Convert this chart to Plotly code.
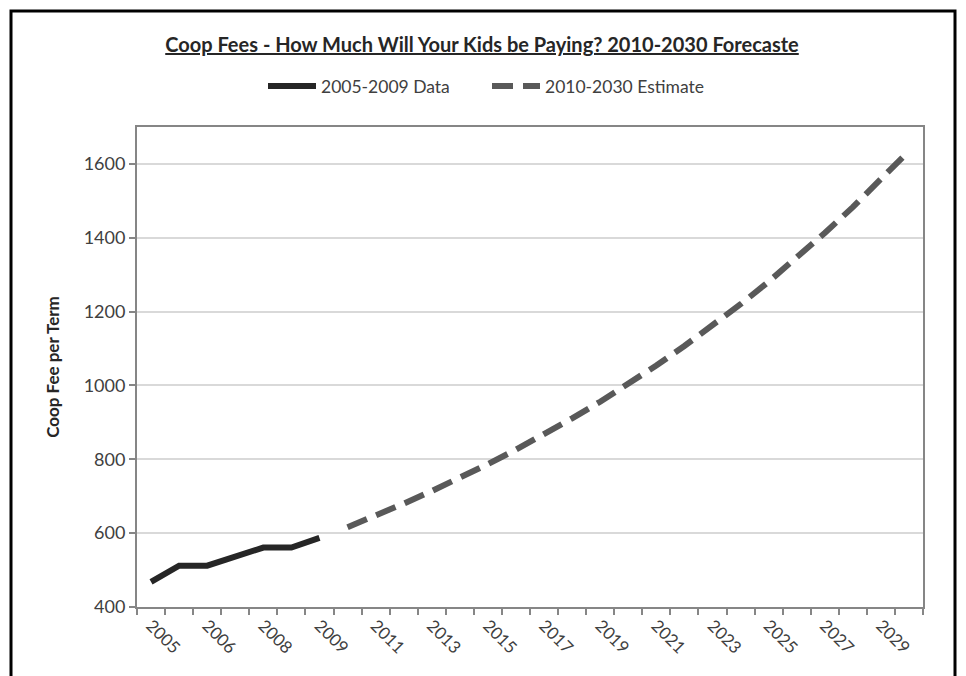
import plotly.graph_objects as go

# ---- data ----
categories = ["2005", "2006", "2006", "2007", "2008", "2008", "2009",
              "2010", "2011", "2012", "2013", "2014", "2015", "2016", "2017",
              "2018", "2019", "2020", "2021", "2022", "2023", "2024", "2025",
              "2026", "2027", "2028", "2029", "2030"]
actual_values = [468, 512, 512, 537, 561, 561, 587]          # 2005-2009 Data
estimate_values = [616, 647, 680, 714, 749, 787, 826, 867, 911, 956, 1004,
                   1054, 1107, 1162, 1220, 1281, 1345, 1413, 1483, 1557, 1635]  # 2010-2030 Estimate
y_ticks = [400, 600, 800, 1000, 1200, 1400, 1600]

OFF = 8                      # page body margin
W, H = 966 - OFF, 676 - OFF
L, R, T, B = 137 - OFF, 43, 127 - OFF, 69
PW, PH = W - L - R, H - T - B

def px(x):                   # page pixel -> paper x
    return (x - OFF - L) / PW

def py(y):                   # page pixel -> paper y
    return (H - B - (y - OFF)) / PH

FONT = "Lato, Carlito, Liberation Sans, sans-serif"

n_act = len(actual_values)
x_act = list(range(n_act))
x_est = list(range(n_act, n_act + len(estimate_values)))

fig = go.Figure()
fig.add_trace(go.Scatter(
    x=x_act, y=actual_values, mode="lines", name="2005-2009 Data",
    line=dict(color="#262626", width=6),
))
fig.add_trace(go.Scatter(
    x=x_est, y=estimate_values, mode="lines", name="2010-2030 Estimate",
    line=dict(color="#595959", width=6, dash="21px,10px"),
))

tick_idx = list(range(0, len(categories), 2))

fig.update_layout(
    width=W, height=H,
    margin=dict(l=L, r=R, t=T, b=B),
    paper_bgcolor="white", plot_bgcolor="white",
    font=dict(family=FONT, color="#404040"),
    title=dict(
        text="<u><b>Coop Fees - How Much Will Your Kids be Paying? 2010-2030 Forecaste</b></u>",
        x=px(482), xanchor="center", xref="paper",
        y=1 - (45 - OFF) / H, yanchor="middle",
        font=dict(family=FONT, size=20, color="#262626"),
    ),
    legend=dict(
        orientation="h", x=px(487), xanchor="center", y=py(86), yanchor="middle",
        font=dict(family=FONT, size=17.5, color="#404040"),
        bgcolor="rgba(0,0,0,0)", itemwidth=48,
        entrywidth=161,
    ),
    showlegend=True,
    xaxis=dict(
        range=[-0.5, len(categories) - 0.5],
        tickmode="array", tickvals=tick_idx,
        ticktext=[categories[i] for i in tick_idx],
        ticks="", tickangle=45,
        tickfont=dict(family=FONT, size=17, color="#404040"),
        showgrid=False, zeroline=False,
        showline=True, linecolor="#868686", linewidth=2, mirror=True,
        minor=dict(ticks="outside", tick0=0.5, dtick=1, ticklen=6,
                   tickcolor="#868686", tickwidth=2, showgrid=False),
    ),
    yaxis=dict(
        range=[400, 1700],
        tickmode="array", tickvals=y_ticks,
        ticks="outside", ticklen=6, tickcolor="#868686", tickwidth=2,
        tickfont=dict(family=FONT, size=18, color="#404040"),
        showgrid=True, gridcolor="#d9d9d9", gridwidth=1.5,
        zeroline=False,
        showline=True, linecolor="#868686", linewidth=2, mirror=True,
        title=dict(text="<b>Coop Fee per Term</b>", standoff=20,
                   font=dict(family=FONT, size=17, color="#262626")),
    ),
)

# outer chart border
fig.add_shape(type="rect", xref="paper", yref="paper",
              x0=px(11), x1=px(955), y0=py(720), y1=py(11),
              line=dict(color="black", width=3), layer="above")

fig.write_html("out.html")
